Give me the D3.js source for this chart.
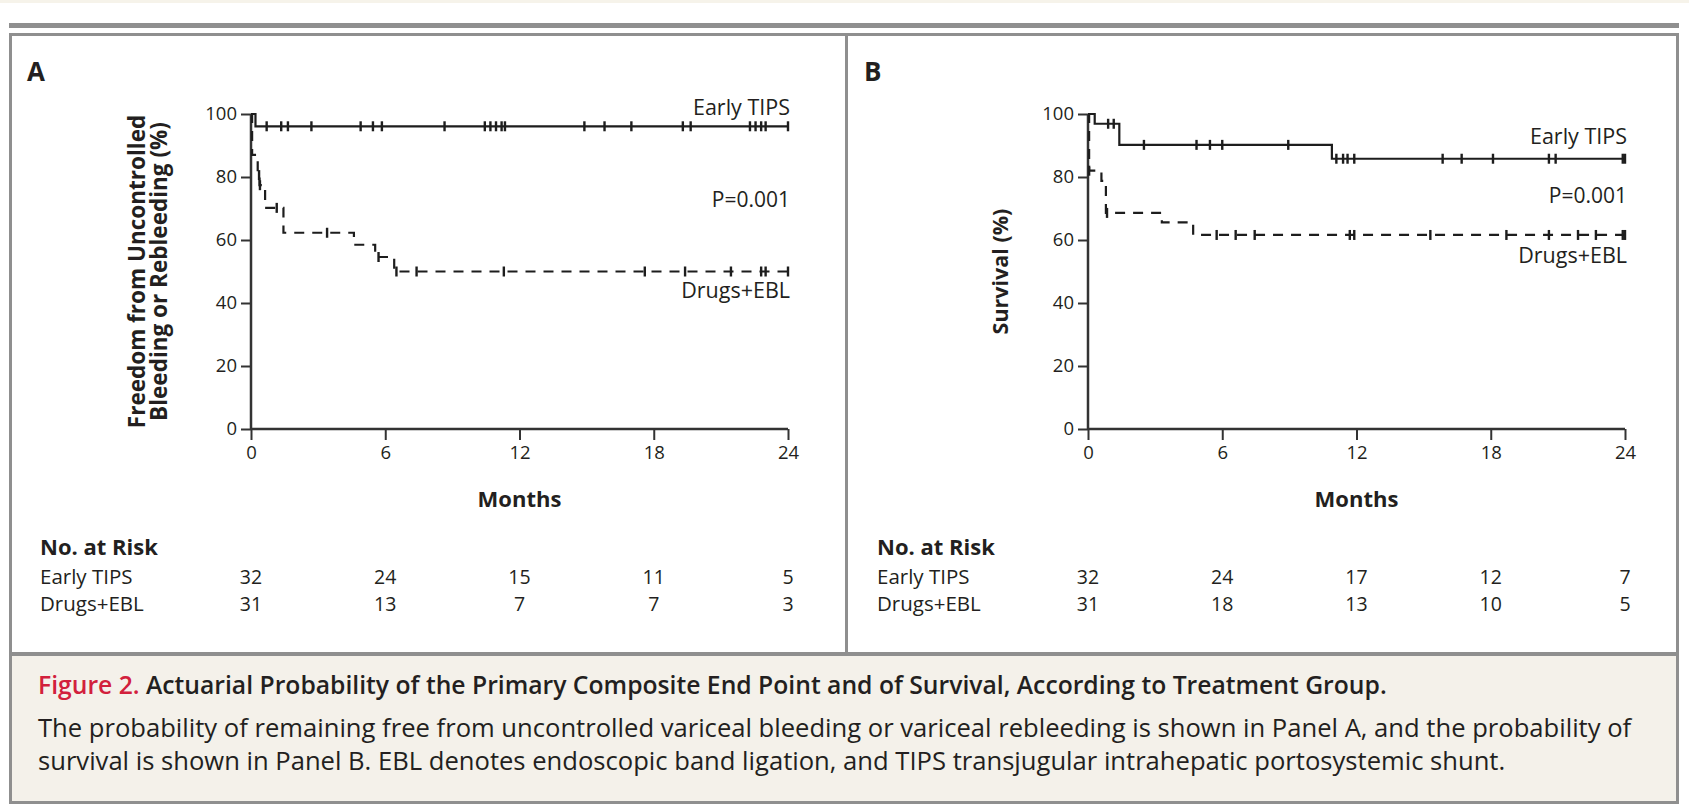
<!DOCTYPE html>
<html>
<head>
<meta charset="utf-8">
<script src="https://cdn.jsdelivr.net/npm/d3@7"></script>
<style>
  body { margin: 0; background: #fff; }
  svg { display: block; }
  text { font-family: "Open Sans", "Noto Sans", sans-serif; fill: #231f20; }
</style>
</head>
<body>
<div id="chart"></div>
<script>
// Shared axes
const months = [0, 6, 12, 18, 24];
const percentTicks = [0, 20, 40, 60, 80, 100];

// Panel A: freedom from uncontrolled bleeding or rebleeding
const tipsAStepTimes = [0, 0.2];
const tipsAStepValues = [100, 96.1];
const tipsACensored = [0.7, 1.35, 1.65, 2.7, 4.9, 5.45, 5.85, 8.65, 10.45, 10.7, 10.95, 11.2, 11.35, 14.9, 15.8, 17.0, 19.3, 19.65, 22.3, 22.55, 22.8, 23.0, 24];
const eblAStepTimes = [0, 0.05, 0.3, 0.38, 0.63, 1.45, 4.6, 5.55, 6.4];
const eblAStepValues = [100, 87, 80.6, 77.4, 70.2, 62.3, 58.5, 54.6, 50];
const eblACensored = [0.36, 0.4, 1.15, 3.4, 5.7, 6.5, 7.4, 11.3, 17.6, 19.4, 21.45, 22.8, 23.0, 24];
const riskATips = [32, 24, 15, 11, 5];
const riskAEbl = [31, 13, 7, 7, 3];

// Panel B: survival
const tipsBStepTimes = [0, 0.3, 1.4, 10.9];
const tipsBStepValues = [100, 96.9, 90.2, 85.8];
const tipsBCensored = [0.9, 1.15, 2.5, 4.85, 5.45, 6.0, 8.95, 11.1, 11.4, 11.6, 11.9, 15.85, 16.7, 18.1, 20.6, 20.9, 23.9, 24];
const eblBStepTimes = [0, 0.05, 0.6, 0.8, 3.3, 4.7];
const eblBStepValues = [100, 82, 78.8, 68.6, 65.6, 61.6];
const eblBCensored = [0.05, 0.85, 5.75, 6.6, 7.45, 11.7, 11.9, 15.3, 18.7, 20.6, 21.9, 22.7, 23.9, 24];
const riskBTips = [32, 24, 17, 12, 7];
const riskBEbl = [31, 18, 13, 10, 5];

const width = 1689;
const height = 808;
const INK = "#231f20";
const FRAME = "#8f8f8f";

const svg = d3
  .select("#chart")
  .append("svg")
  .attr("width", width)
  .attr("height", height);

// Page furniture
svg.append("rect").attr("x", 0).attr("y", 0).attr("width", width).attr("height", 3).attr("fill", "#f6f3ea");
svg.append("rect").attr("x", 9).attr("y", 23).attr("width", 1670).attr("height", 5).attr("fill", FRAME);
svg.append("rect")
  .attr("x", 10.5).attr("y", 34.5).attr("width", 1667).attr("height", 619)
  .attr("fill", "#fff").attr("stroke", FRAME).attr("stroke-width", 3);
svg.append("line")
  .attr("x1", 846.5).attr("x2", 846.5).attr("y1", 34).attr("y2", 654)
  .attr("stroke", FRAME).attr("stroke-width", 3);
svg.append("rect")
  .attr("x", 10.5).attr("y", 654.5).attr("width", 1667).attr("height", 148)
  .attr("fill", "#f4f1ea").attr("stroke", FRAME).attr("stroke-width", 3);

// Caption
const caption = svg.append("g");
const title = caption.append("text").attr("x", 38).attr("y", 694).style("font-size", "24.7px");
title.append("tspan").style("fill", "#d2203c").style("font-weight", 600).text("Figure 2. ");
title.append("tspan").style("font-weight", 600)
  .text("Actuarial Probability of the Primary Composite End Point and of Survival, According to Treatment Group.");
caption.append("text").attr("x", 38).attr("y", 737).style("font-size", "25.6px")
  .text("The probability of remaining free from uncontrolled variceal bleeding or variceal rebleeding is shown in Panel A, and the probability of");
caption.append("text").attr("x", 38).attr("y", 770).style("font-size", "25.6px")
  .text("survival is shown in Panel B. EBL denotes endoscopic band ligation, and TIPS transjugular intrahepatic portosystemic shunt.");

function drawPanel(p) {
  const g = svg.append("g").attr("transform", `translate(${p.dx}, 0)`);

  const x = d3.scaleLinear().domain([0, 24]).range([251, 788]);
  const y = d3.scaleLinear().domain([0, 100]).range([429, 114]);

  g.append("text")
    .attr("x", 27).attr("y", 81)
    .style("font-size", "26px").style("font-weight", 700)
    .text(p.letter);

  // Axes
  const yAxis = g.append("g")
    .attr("transform", `translate(${x(0)},0)`)
    .call(d3.axisLeft(y).tickValues(percentTicks).tickSize(10).tickPadding(4));
  const xAxis = g.append("g")
    .attr("transform", `translate(0,${y(0)})`)
    .call(d3.axisBottom(x).tickValues(months).tickSize(11).tickPadding(6));
  [xAxis, yAxis].forEach((a) => {
    a.select(".domain").attr("stroke", "#333").attr("stroke-width", 2.5);
    a.selectAll(".tick line").attr("stroke", "#333").attr("stroke-width", 2);
    a.selectAll(".tick text").style("font-size", "18.5px").attr("fill", INK);
  });
  yAxis.select(".domain").attr("d", `M0,${y(0)}V${y(100)}`);
  xAxis.select(".domain").attr("d", `M${x(0)},0H${x(24)}`);

  g.append("text")
    .attr("x", (x(0) + x(24)) / 2).attr("y", 507)
    .attr("text-anchor", "middle")
    .style("font-size", "22px").style("font-weight", 700)
    .text("Months");

  const yTitle = g.append("text")
    .attr("transform", `translate(${p.yTitleX}, ${(y(0) + y(100)) / 2}) rotate(-90)`)
    .attr("text-anchor", "middle")
    .style("font-size", p.yTitleSize).style("font-weight", 700);
  p.yTitle.forEach((line, i) => {
    yTitle.append("tspan").attr("x", 0).attr("dy", i === 0 ? 0 : 22).text(line);
  });

  // Curves
  const line = d3.line()
    .x((d) => x(d[0]))
    .y((d) => y(d[1]))
    .curve(d3.curveStepAfter);

  p.series.forEach((s) => {
    const pts = s.times.map((t, i) => [t, s.values[i]]);
    pts.push([24, s.values[s.values.length - 1]]);
    g.append("path")
      .datum(pts)
      .attr("fill", "none")
      .attr("stroke", "#1d1d1d")
      .attr("stroke-width", 2.2)
      .attr("stroke-dasharray", s.dashed ? "10,8" : null)
      .attr("d", line);

    const valueAt = (t) => s.values[d3.bisectRight(s.times, t) - 1];
    g.selectAll(null)
      .data(s.censored)
      .join("line")
      .attr("x1", (d) => x(d)).attr("x2", (d) => x(d))
      .attr("y1", (d) => y(valueAt(d)) - 5)
      .attr("y2", (d) => y(valueAt(d)) + 5)
      .attr("stroke", "#1d1d1d")
      .attr("stroke-width", 2.4);

    g.append("text")
      .attr("x", x(24) + 2).attr("y", s.labelY)
      .attr("text-anchor", "end")
      .style("font-size", "21.5px")
      .text(s.name);
  });

  g.append("text")
    .attr("x", x(24) + 2).attr("y", p.pY)
    .attr("text-anchor", "end")
    .style("font-size", "21px")
    .text("P=0.001");

  // Numbers at risk
  g.append("text")
    .attr("x", 40).attr("y", 555)
    .style("font-size", "22px").style("font-weight", 700)
    .text("No. at Risk");
  p.risk.forEach((r, j) => {
    const ry = 584 + j * 27;
    g.append("text").attr("x", 40).attr("y", ry).style("font-size", "20.5px").text(r.name);
    g.selectAll(null)
      .data(r.counts)
      .join("text")
      .attr("x", (d, i) => x(months[i]))
      .attr("y", ry)
      .attr("text-anchor", "middle")
      .style("font-size", "19.5px")
      .text((d) => d);
  });
}

drawPanel({
  dx: 0,
  letter: "A",
  yTitleX: 145,
  yTitleSize: "22.5px",
  yTitle: ["Freedom from Uncontrolled", "Bleeding or Rebleeding (%)"],
  pY: 207,
  series: [
    { name: "Early TIPS", times: tipsAStepTimes, values: tipsAStepValues, censored: tipsACensored, dashed: false, labelY: 115 },
    { name: "Drugs+EBL", times: eblAStepTimes, values: eblAStepValues, censored: eblACensored, dashed: true, labelY: 298 }
  ],
  risk: [
    { name: "Early TIPS", counts: riskATips },
    { name: "Drugs+EBL", counts: riskAEbl }
  ]
});

drawPanel({
  dx: 837,
  letter: "B",
  yTitleX: 171,
  yTitleSize: "21.5px",
  yTitle: ["Survival (%)"],
  pY: 203,
  series: [
    { name: "Early TIPS", times: tipsBStepTimes, values: tipsBStepValues, censored: tipsBCensored, dashed: false, labelY: 144 },
    { name: "Drugs+EBL", times: eblBStepTimes, values: eblBStepValues, censored: eblBCensored, dashed: true, labelY: 263 }
  ],
  risk: [
    { name: "Early TIPS", counts: riskBTips },
    { name: "Drugs+EBL", counts: riskBEbl }
  ]
});
</script>
</body>
</html>
